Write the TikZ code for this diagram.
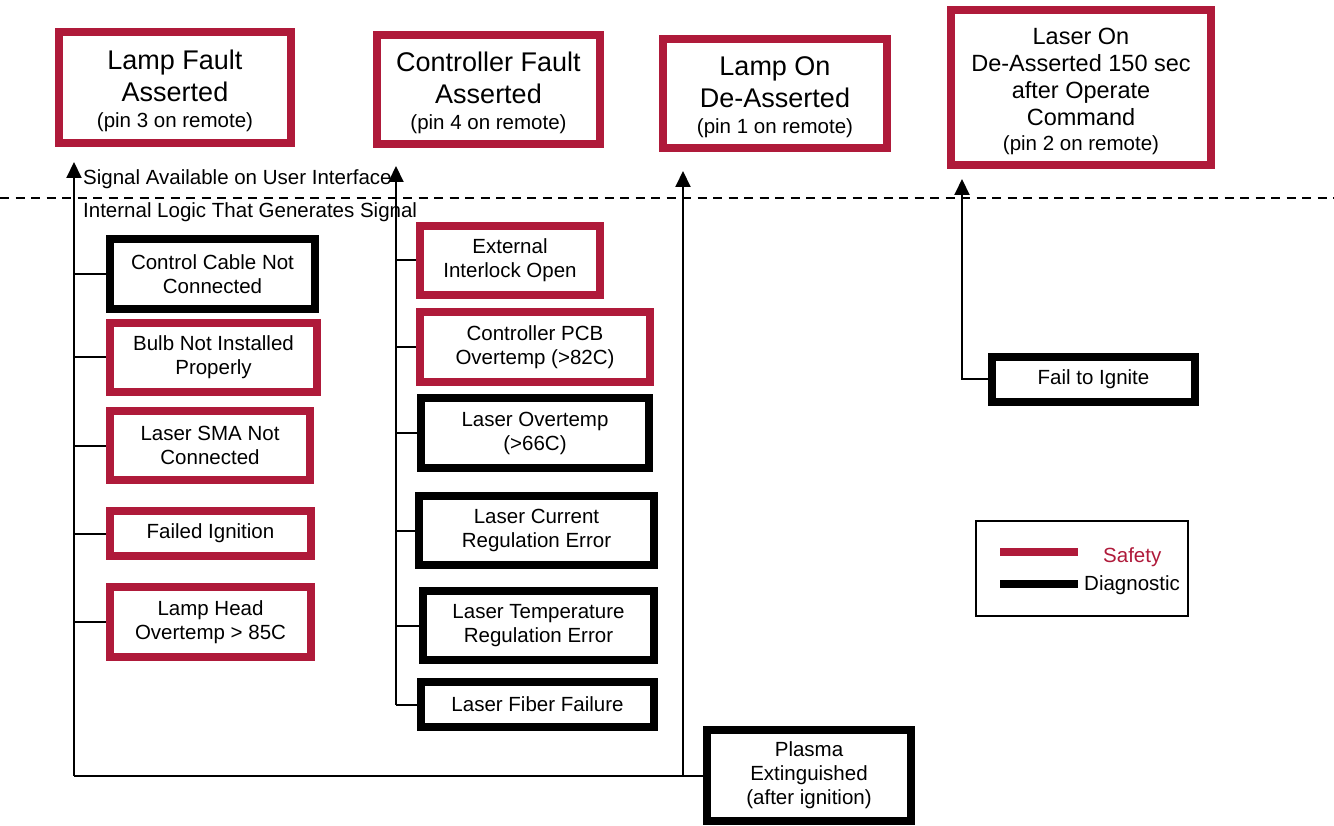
\documentclass[tikz,border=0pt]{standalone}
\usepackage{fontspec}
\setmainfont{Liberation Sans}
\usetikzlibrary{arrows.meta}
\definecolor{safetyred}{RGB}{175,26,58}
\newcommand{\titlefnt}{\fontsize{27}{32}\selectfont}
\newcommand{\pinfnt}{\fontsize{20.5}{24}\selectfont}
\newcommand{\bodyfnt}{\fontsize{20.5}{24}\selectfont}
\newcommand{\laserfnt}{\fontsize{23.5}{27}\selectfont}
\newcommand{\topstrut}[1]{\rule{0pt}{#1}}
\tikzset{
  boxbase/.style={draw, line width=8pt, inner sep=0pt, align=center, font=\bodyfnt, fill=white},
  redbox/.style={boxbase, draw=safetyred},
  blackbox/.style={boxbase, draw=black},
  conn/.style={line width=2pt, draw=black},
  arrowc/.style={conn, -{Triangle[length=16pt,width=15pt]}},
  sep/.style={line width=2pt, dash pattern=on 9pt off 6.5pt},
  plain/.style={inner sep=0pt, font=\bodyfnt, anchor=base west},
}
\begin{document}
\begin{tikzpicture}[x=1pt,y=-1pt]
\useasboundingbox (0,0) rectangle (1334,826);
% separator
\draw[sep] (0,198) -- (1334,198);
\node[plain] (sigavail) at (83,185) {Signal Available on User Interface};
\node[plain] (intlogic) at (83,218) {Internal Logic That Generates Signal};
% top boxes
\node[redbox, font=\titlefnt, minimum width=232pt, minimum height=111pt] (lampfault) at (175,87.5)
  {\topstrut{26pt}Lamp Fault\\Asserted\\[-6pt]{\pinfnt (pin 3 on remote)}};
\node[redbox, font=\titlefnt, minimum width=223pt, minimum height=109pt] (ctrlfault) at (488.5,89.5)
  {\topstrut{26pt}Controller Fault\\Asserted\\[-6pt]{\pinfnt (pin 4 on remote)}};
\node[redbox, font=\titlefnt, minimum width=224pt, minimum height=109pt] (lampon) at (775,93.5)
  {\topstrut{26pt}Lamp On\\De-Asserted\\[-6pt]{\pinfnt (pin 1 on remote)}};
\node[redbox, font=\laserfnt, minimum width=260pt, minimum height=155pt] (laseron) at (1081,87.5)
  {\topstrut{24pt}Laser On\\De-Asserted 150 sec\\after Operate\\Command\\[-2pt]{\pinfnt (pin 2 on remote)}};
% left column
\node[blackbox, minimum width=205pt, minimum height=70pt] (cable) at (212.5,274) {Control Cable Not\\Connected};
\node[redbox, minimum width=207pt, minimum height=69pt] (bulb) at (213.5,357.5) {Bulb Not Installed\\Properly};
\node[redbox, minimum width=200pt, minimum height=69pt] (sma) at (210,445.5) {Laser SMA Not\\Connected};
\node[redbox, minimum width=201pt, minimum height=45pt] (failign) at (210.5,533.5) {Failed Ignition};
\node[redbox, minimum width=201pt, minimum height=70pt] (lamphead) at (210.5,622) {Lamp Head\\Overtemp > 85C};
% controller column
\node[redbox, minimum width=180pt, minimum height=69pt] (extint) at (510,260.5) {External\\Interlock Open};
\node[redbox, minimum width=230pt, minimum height=70pt] (pcb) at (535,347) {Controller PCB\\Overtemp (>82C)};
\node[blackbox, minimum width=228pt, minimum height=70pt] (lover) at (535,433) {Laser Overtemp\\(>66C)};
\node[blackbox, minimum width=235pt, minimum height=69pt] (lcur) at (536.5,530.5) {Laser Current\\Regulation Error};
\node[blackbox, minimum width=231pt, minimum height=69pt] (ltemp) at (538.5,625.5) {Laser Temperature\\Regulation Error};
\node[blackbox, minimum width=233pt, minimum height=45pt] (lfib) at (537.5,704.5) {Laser Fiber Failure};
% others
\node[blackbox, minimum width=204pt, minimum height=91pt] (plasma) at (809,775.5) {Plasma\\Extinguished\\(after ignition)};
\node[blackbox, minimum width=203pt, minimum height=45pt] (failto) at (1093.5,379.5) {Fail to Ignite};
% connectors
\coordinate (lcorner) at (74,0 |- plasma.west);
\coordinate (ccorner) at (396,0 |- lfib.west);
\coordinate (pcorner) at (683,0 |- plasma.west);
\coordinate (fcorner) at (962,0 |- failto.west);
\draw[conn] (lcorner) -- (plasma.west);
\draw[arrowc, shorten >=15pt] (lcorner) -- (lcorner |- lampfault.south);
\foreach \n in {cable,bulb,sma,failign,lamphead}
  \draw[conn] (lcorner |- \n.west) -- (\n.west);
\draw[arrowc, shorten >=18pt] (ccorner) -- (ccorner |- ctrlfault.south);
\foreach \n in {extint,pcb,lover,lcur,ltemp,lfib}
  \draw[conn] (ccorner |- \n.west) -- (\n.west);
\draw[arrowc, shorten >=19pt] (pcorner) -- (pcorner |- lampon.south);
\draw[arrowc, shorten >=10pt] (failto.west) -- (fcorner) -- (fcorner |- laseron.south);
% legend
\node[draw, line width=1.5pt, minimum width=212pt, minimum height=95pt, inner sep=0pt] (legend) at (1082,568.5) {};
\coordinate (lgA) at (1000,552);
\coordinate (lgB) at (1078,552);
\coordinate (lgC) at (1000,584);
\coordinate (lgD) at (1078,584);
\draw[safetyred, line width=8pt] (lgA) -- (lgB);
\draw[black, line width=8pt] (lgC) -- (lgD);
\node[plain, text=safetyred] (safety) at (1103,562) {Safety};
\node[plain] (diag) at (1084,590) {Diagnostic};
\end{tikzpicture}
\end{document}
